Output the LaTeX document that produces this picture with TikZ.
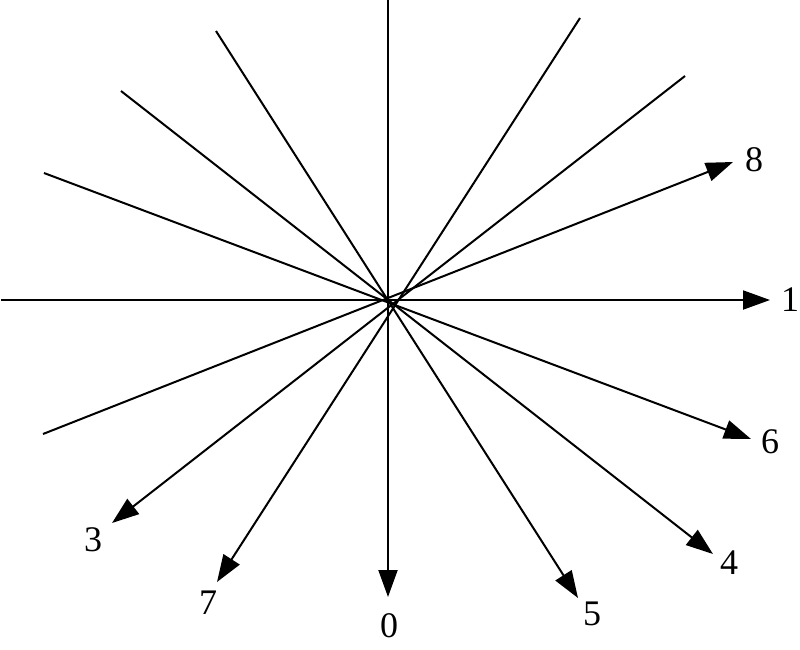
\documentclass[tikz,border=0pt]{standalone}
\usepackage{fontspec}
\setmainfont{Liberation Serif}
\usetikzlibrary{arrows.meta}
\begin{document}
\begin{tikzpicture}[x=1pt,y=-1pt,
  ray/.style={line width=2pt},
  arr/.style={ray,-{Triangle[length=27pt,width=19pt]}},
  lbl/.style={font=\fontsize{36}{36}\selectfont,inner sep=0pt}]
\useasboundingbox (0,0) rectangle (800,649);
% free ends
\coordinate (s0) at (388,0);
\coordinate (s1) at (1,300);
\coordinate (s8) at (43,434);
\coordinate (s6) at (44,173);
\coordinate (s4) at (121,91);
\coordinate (s5) at (216,31);
\coordinate (s7) at (580,18);
\coordinate (s3) at (685,76);
% arrow tips
\coordinate (e0) at (388,597);
\coordinate (e1) at (770,300);
\coordinate (e8) at (733,162);
\coordinate (e6) at (751,439);
\coordinate (e4) at (713,554);
\coordinate (e5) at (578,598);
\coordinate (e7) at (217,582);
\coordinate (e3) at (112,523);
% labels
\node[lbl] (l0) at (389,626) {0};
\node[lbl] (l1) at (790,300) {1};
\node[lbl] (l8) at (754,160) {8};
\node[lbl] (l6) at (770,442) {6};
\node[lbl] (l4) at (729,563) {4};
\node[lbl] (l5) at (592,614) {5};
\node[lbl] (l7) at (208,603) {7};
\node[lbl] (l3) at (93,540) {3};
% rays
\draw[arr] (s0) -- (e0);
\draw[arr] (s1) -- (e1);
\draw[arr] (s8) -- (e8);
\draw[arr] (s6) -- (e6);
\draw[arr] (s4) -- (e4);
\draw[arr] (s5) -- (e5);
\draw[arr] (s7) -- (e7);
\draw[arr] (s3) -- (e3);
\end{tikzpicture}
\end{document}
